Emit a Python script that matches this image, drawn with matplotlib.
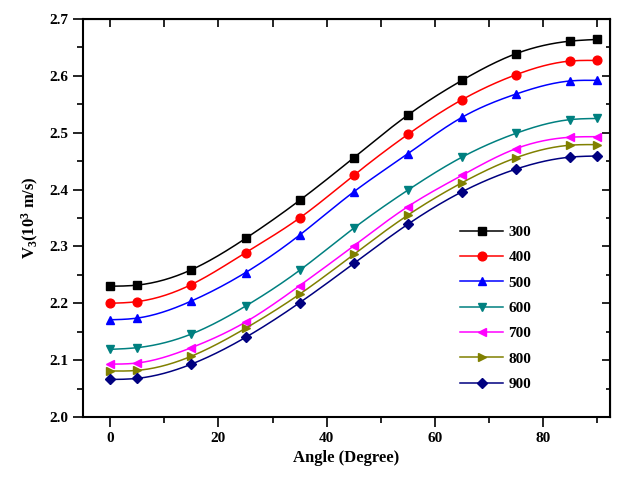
import numpy as np
import matplotlib
matplotlib.use("Agg")
import matplotlib.pyplot as plt
from matplotlib.ticker import MultipleLocator

angles = [0, 5, 15, 25, 35, 45, 55, 65, 75, 85, 90]
labels = ["300", "400", "500", "600", "700", "800", "900"]
v300 = [2.230, 2.232, 2.259, 2.314, 2.381, 2.456, 2.531, 2.592, 2.639, 2.661, 2.664]
v400 = [2.200, 2.203, 2.233, 2.289, 2.350, 2.425, 2.497, 2.558, 2.602, 2.626, 2.627]
v500 = [2.171, 2.174, 2.204, 2.254, 2.320, 2.396, 2.463, 2.527, 2.568, 2.591, 2.592]
v600 = [2.119, 2.122, 2.146, 2.195, 2.258, 2.332, 2.399, 2.457, 2.499, 2.523, 2.525]
v700 = [2.093, 2.095, 2.122, 2.167, 2.231, 2.301, 2.370, 2.425, 2.472, 2.492, 2.493]
v800 = [2.081, 2.082, 2.107, 2.156, 2.216, 2.286, 2.355, 2.412, 2.456, 2.478, 2.479]
v900 = [2.066, 2.068, 2.093, 2.140, 2.201, 2.270, 2.339, 2.396, 2.436, 2.457, 2.459]
series = [v300, v400, v500, v600, v700, v800, v900]
colors = ["#000000", "#ff0000", "#0000ff", "#008080", "#ff00ff", "#808000", "#000080"]
markers = ["s", "o", "^", "v", "<", ">", "D"]


def natural_spline(x, y, n=300):
    x = np.asarray(x, float)
    y = np.asarray(y, float)
    k = len(x)
    h = np.diff(x)
    A = np.zeros((k, k))
    b = np.zeros(k)
    A[0, 0] = 1
    A[-1, -1] = 1
    for i in range(1, k - 1):
        A[i, i - 1] = h[i - 1]
        A[i, i] = 2 * (h[i - 1] + h[i])
        A[i, i + 1] = h[i]
        b[i] = 6 * ((y[i + 1] - y[i]) / h[i] - (y[i] - y[i - 1]) / h[i - 1])
    M = np.linalg.solve(A, b)
    xs = np.linspace(x[0], x[-1], n)
    idx = np.clip(np.searchsorted(x, xs) - 1, 0, k - 2)
    x0, x1 = x[idx], x[idx + 1]
    hh = x1 - x0
    t1 = x1 - xs
    t0 = xs - x0
    ys = (M[idx] * t1 ** 3 / (6 * hh) + M[idx + 1] * t0 ** 3 / (6 * hh)
          + (y[idx] / hh - M[idx] * hh / 6) * t1
          + (y[idx + 1] / hh - M[idx + 1] * hh / 6) * t0)
    return xs, ys


plt.rcParams['font.family'] = ['Liberation Serif', 'DejaVu Serif']
plt.rcParams['font.weight'] = 'bold'
plt.rcParams['mathtext.fontset'] = 'custom'
plt.rcParams['mathtext.rm'] = 'Liberation Serif:bold'
plt.rcParams['mathtext.it'] = 'Liberation Serif:bold'
plt.rcParams['mathtext.bf'] = 'Liberation Serif:bold'

fig = plt.figure(figsize=(6.25, 4.79), dpi=100)
ax = fig.add_axes([0.1323, 0.1294, 0.844, 0.831])

for lab, vals, c, m in zip(labels, series, colors, markers):
    xs, ys = natural_spline(angles, vals)
    ax.plot(xs, ys, color=c, lw=1.1)
    ms = 5.5 if m == "D" else 6.3
    ax.plot(angles, vals, linestyle="none", marker=m, color=c, ms=ms)
    ax.plot([], [], color=c, lw=1.1, marker=m, ms=ms, label=lab)

ax.set_xlim(-5.1, 92.4)
ax.set_ylim(2.0, 2.7)
ax.xaxis.set_major_locator(MultipleLocator(20))
ax.xaxis.set_minor_locator(MultipleLocator(10))
ax.yaxis.set_major_locator(MultipleLocator(0.1))
ax.yaxis.set_minor_locator(MultipleLocator(0.05))
ax.yaxis.set_major_formatter(matplotlib.ticker.FormatStrFormatter('%.1f'))

ax.tick_params(axis='both', which='major', direction='out', length=7, width=1.2,
               labelsize=11)
ax.tick_params(axis='both', which='minor', direction='out', length=4, width=1.2)
for sp in ax.spines.values():
    sp.set_linewidth(1.5)

# top / right inward ticks
axt = ax.secondary_xaxis('top')
axt.xaxis.set_major_locator(MultipleLocator(10))
axt.tick_params(direction='in', length=6, width=1.2, labelsize=0, labeltop=False)
axt.set_xticklabels([])
axr = ax.secondary_yaxis('right')
axr.yaxis.set_major_locator(MultipleLocator(0.1))
axr.yaxis.set_minor_locator(MultipleLocator(0.05))
axr.tick_params(which='major', direction='in', length=6, width=1.2, labelright=False)
axr.tick_params(which='minor', direction='in', length=3, width=1.2)
axr.set_yticklabels([])

for lbl in ax.get_xticklabels() + ax.get_yticklabels():
    lbl.set_fontweight('bold')

ax.set_xlabel("Angle (Degree)", fontsize=12, fontweight='bold', labelpad=4)
ax.set_ylabel(r"V$_3$(10$^3$ m/s)", fontsize=12, fontweight='bold', labelpad=6)

leg = ax.legend(loc='lower left', bbox_to_anchor=(0.69, 0.031), frameon=False,
                fontsize=11, handlelength=2.8, labelspacing=0.76, handletextpad=0.35)
for t in leg.get_texts():
    t.set_fontweight('bold')

fig.savefig("out.png", dpi=100)
